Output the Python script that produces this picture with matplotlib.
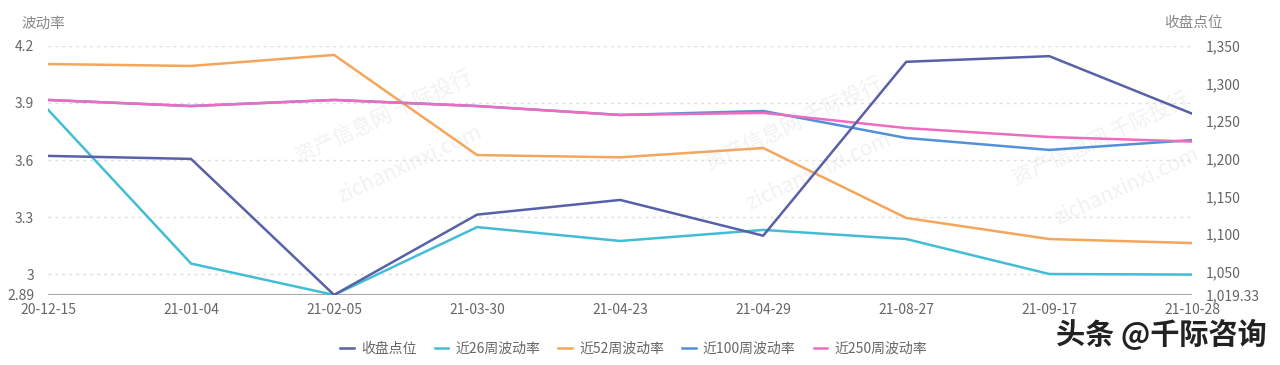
import numpy as np
from matplotlib import pyplot as plt

plt.rcParams['font.family'] = ['Noto Sans CJK SC', 'DejaVu Sans']

# data
dates = ['20-12-15', '21-01-04', '21-02-05', '21-03-30', '21-04-23',
         '21-04-29', '21-08-27', '21-09-17', '21-10-28']
close = [1204, 1200, 1019.33, 1126, 1145.5, 1098, 1329, 1336.5, 1260]
vol26 = [3.865, 3.055, 2.89, 3.247, 3.174, 3.232, 3.184, 3.0, 2.997]
vol52 = [4.105, 4.095, 4.153, 3.626, 3.614, 3.663, 3.295, 3.184, 3.163]
vol100 = [3.916, 3.884, 3.916, 3.884, 3.837, 3.858, 3.716, 3.653, 3.705]
vol250 = [3.916, 3.884, 3.916, 3.884, 3.837, 3.848, 3.768, 3.721, 3.697]

left_ticks = [2.89, 3, 3.3, 3.6, 3.9, 4.2]
left_labels = ['2.89', '3', '3.3', '3.6', '3.9', '4.2']
right_ticks = [1019.33, 1050, 1100, 1150, 1200, 1250, 1300, 1350]
right_labels = ['1,019.33', '1,050', '1,100', '1,150', '1,200', '1,250', '1,300', '1,350']

c_close = '#5860A8'
c26 = '#42BDD5'
c52 = '#F4A65C'
c100 = '#5290DA'
c250 = '#EC6CC0'

fig = plt.figure(figsize=(12.8, 3.65), dpi=100)
ax = fig.add_axes([0.0375, 0.192, 0.894, 0.682])
ax2 = ax.twinx()

x = np.arange(len(dates))

# faint watermarks, kept under the lines
for wx, wy in [(0.30, 0.68), (0.62, 0.66), (0.86, 0.62)]:
    ax.text(wx, wy, '资产信息网 千际投行', fontsize=15, color='#f2f2f2',
            rotation=25, ha='center', va='center', zorder=0.5,
            transform=fig.transFigure)
    ax.text(wx + 0.02, wy - 0.13, 'zichanxinxi.com', fontsize=15, color='#f2f2f2',
            rotation=25, ha='center', va='center', zorder=0.5,
            transform=fig.transFigure)

ax.plot(x, vol26, color=c26, lw=1.8, label='近26周波动率', zorder=3)
ax.plot(x, vol52, color=c52, lw=1.8, label='近52周波动率', zorder=3)
ax.plot(x, vol100, color=c100, lw=1.8, label='近100周波动率', zorder=3)
ax.plot(x, vol250, color=c250, lw=1.8, label='近250周波动率', zorder=4)
ax2.plot(x, close, color=c_close, lw=1.8, label='收盘点位', zorder=3)

ax.set_xlim(0, len(dates) - 1)
ax.set_ylim(2.89, 4.2)
ax2.set_ylim(1019.33, 1350)

ax.set_yticks(left_ticks)
ax.set_yticklabels(left_labels)
ax2.set_yticks(right_ticks)
ax2.set_yticklabels(right_labels)
ax.set_xticks(x)
ax.set_xticklabels(dates)

for a in (ax, ax2):
    for s in a.spines.values():
        s.set_visible(False)
    a.tick_params(length=0, colors='#666666', labelsize=10)
ax.tick_params(axis='y', pad=10)
ax2.tick_params(axis='y', pad=10)
ax.tick_params(axis='x', pad=6)

for t in left_ticks[1:]:
    ax.axhline(t, color='#dddddd', lw=1, ls=(0, (2, 3)), zorder=1)
ax.axhline(2.89, color='#aaaaaa', lw=1.5, zorder=2)

ax.patch.set_visible(False)
ax2.patch.set_visible(False)

fig.text(0.017, 0.935, '波动率', fontsize=10.5, color='#888888', ha='left', va='center')
fig.text(0.955, 0.935, '收盘点位', fontsize=10.5, color='#888888', ha='right', va='center')

h1, l1 = ax2.get_legend_handles_labels()
h2, l2 = ax.get_legend_handles_labels()
fig.legend(h1 + h2, l1 + l2, loc='center', bbox_to_anchor=(0.495, 0.045), ncol=5,
           frameon=False, fontsize=10, handlelength=1.0, handletextpad=0.5,
           columnspacing=1.3, labelcolor='#666666')

fig.text(0.99, 0.085, '头条 @千际咨询', fontsize=21, color='#222222',
         ha='right', va='center', fontweight='bold')

plt.savefig('out.png', dpi=100)
